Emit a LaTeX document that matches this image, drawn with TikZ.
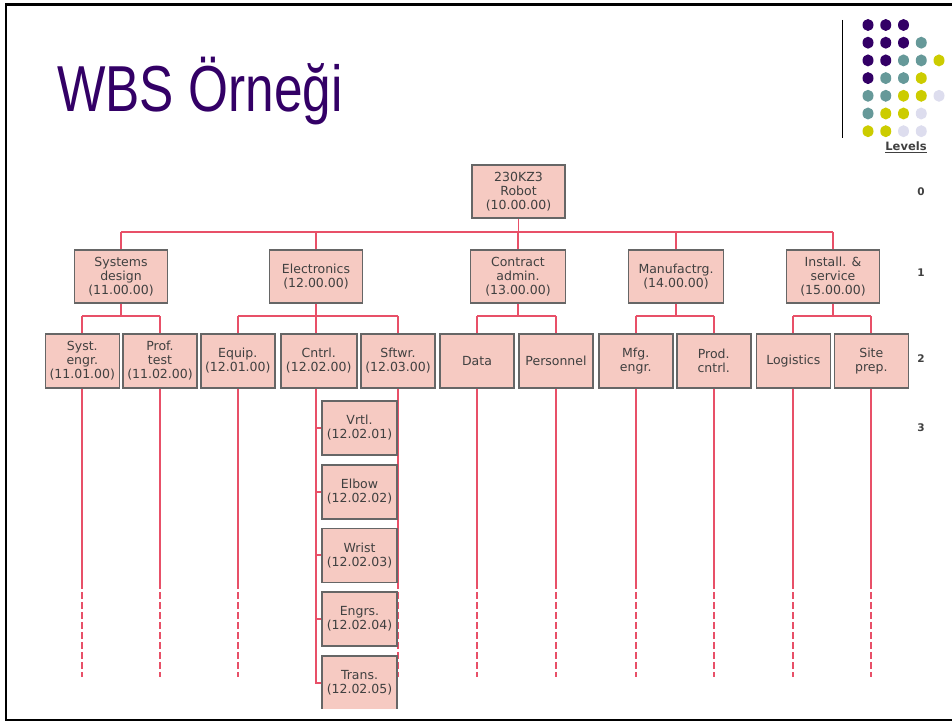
\documentclass[tikz,border=0pt]{standalone}
\usepackage{fontspec}
\setmainfont{Liberation Sans}
\newfontfamily\boxfont{DejaVu Sans}
\usepackage{graphicx}
\usetikzlibrary{backgrounds}
\definecolor{titlepurple}{RGB}{51,0,102}
\definecolor{dotpurple}{RGB}{51,0,102}
\definecolor{dotteal}{RGB}{102,153,153}
\definecolor{dotyellow}{RGB}{204,204,0}
\definecolor{dotlilac}{RGB}{221,221,238}
\definecolor{boxpink}{RGB}{246,202,194}
\definecolor{linkred}{RGB}{232,80,104}

\begin{document}
\begin{tikzpicture}[x=1pt,y=-1pt,
  wbs/.style={draw=black!60, line width=1.6pt, fill=boxpink, align=center, inner sep=1pt,
    font=\boxfont\fontsize{12.5}{14}\selectfont, text=black!75,
    minimum width=93pt, minimum height=53pt},
  task/.style={wbs, minimum width=74pt, minimum height=54pt},
  link/.style={linkred, line width=1.8pt},
  tail/.style={link, dash pattern=on 6.5pt off 3.5pt},
  lvl/.style={font=\boxfont\bfseries\fontsize{10.5}{11}\selectfont, text=black!75}]
\useasboundingbox (0,0) rectangle (952,722);
\draw[line width=2.5pt] (6,4.5) rectangle (970,720);

% title and level key
\node[anchor=base west, inner sep=0, text=titlepurple] (title) at (57,112)
  {\scalebox{0.79}[1]{\fontsize{65}{70}\selectfont WBS Örneği}};
\draw[line width=0.8pt] (842,20) -- (842,138);
\foreach \row [count=\j from 0] in {{dotpurple,dotpurple,dotpurple},
    {dotpurple,dotpurple,dotpurple,dotteal},
    {dotpurple,dotpurple,dotteal,dotteal,dotyellow},
    {dotpurple,dotteal,dotteal,dotyellow},
    {dotteal,dotteal,dotyellow,dotyellow,dotlilac},
    {dotteal,dotyellow,dotyellow,dotlilac},
    {dotyellow,dotyellow,dotlilac,dotlilac}}
  \foreach \c [count=\i from 0] in \row
    \fill[\c] (868+17.75*\i,25+17.7*\j) circle[x radius=5.5pt, y radius=6pt];
\node[lvl, font=\boxfont\bfseries\fontsize{11.5}{12}\selectfont] (levels) at (906,147) {\underline{Levels}};
\foreach \lv/\yy in {0/192,1/273,2/359,3/428}
  \node[lvl] (lv\lv) at (921,\yy) {\lv};

% level 0 and 1
\node[wbs] (robot) at (518.5,191.5) {230KZ3\\Robot\\(10.00.00)};
\node[wbs] (sysd) at (121,276.5) {Systems\\design\\(11.00.00)};
\node[wbs] (elec) at (316,276.5) {Electronics\\(12.00.00)};
\node[wbs, minimum width=95pt] (cadm) at (518,276.5) {Contract\\admin.\\(13.00.00)};
\node[wbs, minimum width=95pt] (manuf) at (676,276.5) {Manufactrg.\\(14.00.00)};
\node[wbs] (inst) at (833,276.5) {Install. \&\\service\\(15.00.00)};

% level 2
\node[task] (syse) at (82.3,361) {Syst.\\engr.\\(11.01.00)};
\node[task] (proft) at (160,361) {Prof.\\test\\(11.02.00)};
\node[task] (equip) at (237.8,361) {Equip.\\(12.01.00)};
\node[task, minimum width=76pt] (cntrl) at (318.7,361) {Cntrl.\\(12.02.00)};
\node[task] (sftwr) at (398,361) {Sftwr.\\(12.03.00)};
\node[task] (data) at (477,361) {Data};
\node[task] (pers) at (556,361) {Personnel};
\node[task] (mfg) at (635.7,361) {Mfg.\\engr.};
\node[task] (prodc) at (713.7,361) {Prod.\\cntrl.};
\node[task] (logi) at (793.3,361) {Logistics};
\node[task] (site) at (871.3,361) {Site\\prep.};

% level 3 under Cntrl.
\node[task, minimum width=75pt] (vrtl) at (359.5,428) {Vrtl.\\(12.02.01)};
\node[task, minimum width=75pt] (elbow) at (359.5,491.7) {Elbow\\(12.02.02)};
\node[task, minimum width=75pt] (wrist) at (359.5,555.3) {Wrist\\(12.02.03)};
\node[task, minimum width=75pt] (engrs) at (359.5,619) {Engrs.\\(12.02.04)};
\begin{scope}
\clip (0,0) rectangle (952,708);
\node[task, minimum width=75pt] (trans) at (359.5,682.7) {Trans.\\(12.02.05)};
\end{scope}

\coordinate (bus1) at (0,232);
\coordinate (bus2) at (0,316);
\coordinate (solidend) at (0,582);
\coordinate (dashend) at (0,677);

\begin{scope}[on background layer]
\draw[link] (sysd.north |- bus1) -- (inst.north |- bus1);
\draw[link] (robot.south) -- (robot.south |- bus1);
\foreach \n in {sysd,elec,cadm,manuf,inst}
  \draw[link] (\n.north |- bus1) -- (\n.north);
\foreach \up/\first/\last in {sysd/syse/proft,elec/equip/sftwr,cadm/data/pers,manuf/mfg/prodc,inst/logi/site} {
  \draw[link] (\up.south) -- (\up.south |- bus2);
  \draw[link] (\first.north |- bus2) -- (\last.north |- bus2);
}
\foreach \n in {syse,proft,equip,sftwr,data,pers,mfg,prodc,logi,site} {
  \draw[link] (\n.north |- bus2) -- (\n.north);
  \draw[link] (\n.south) -- (\n.south |- solidend);
  \draw[tail] (\n.south |- solidend) -- (\n.south |- dashend);
}
\draw[link] (elec.south |- bus2) -- (elec.south |- cntrl.north);
\draw[link] (elec.south |- cntrl.south) |- (trans.west);
\foreach \n in {vrtl,elbow,wrist,engrs}
  \draw[link] (elec.south |- \n.west) -- (\n.west);
\end{scope}
\end{tikzpicture}
\end{document}
